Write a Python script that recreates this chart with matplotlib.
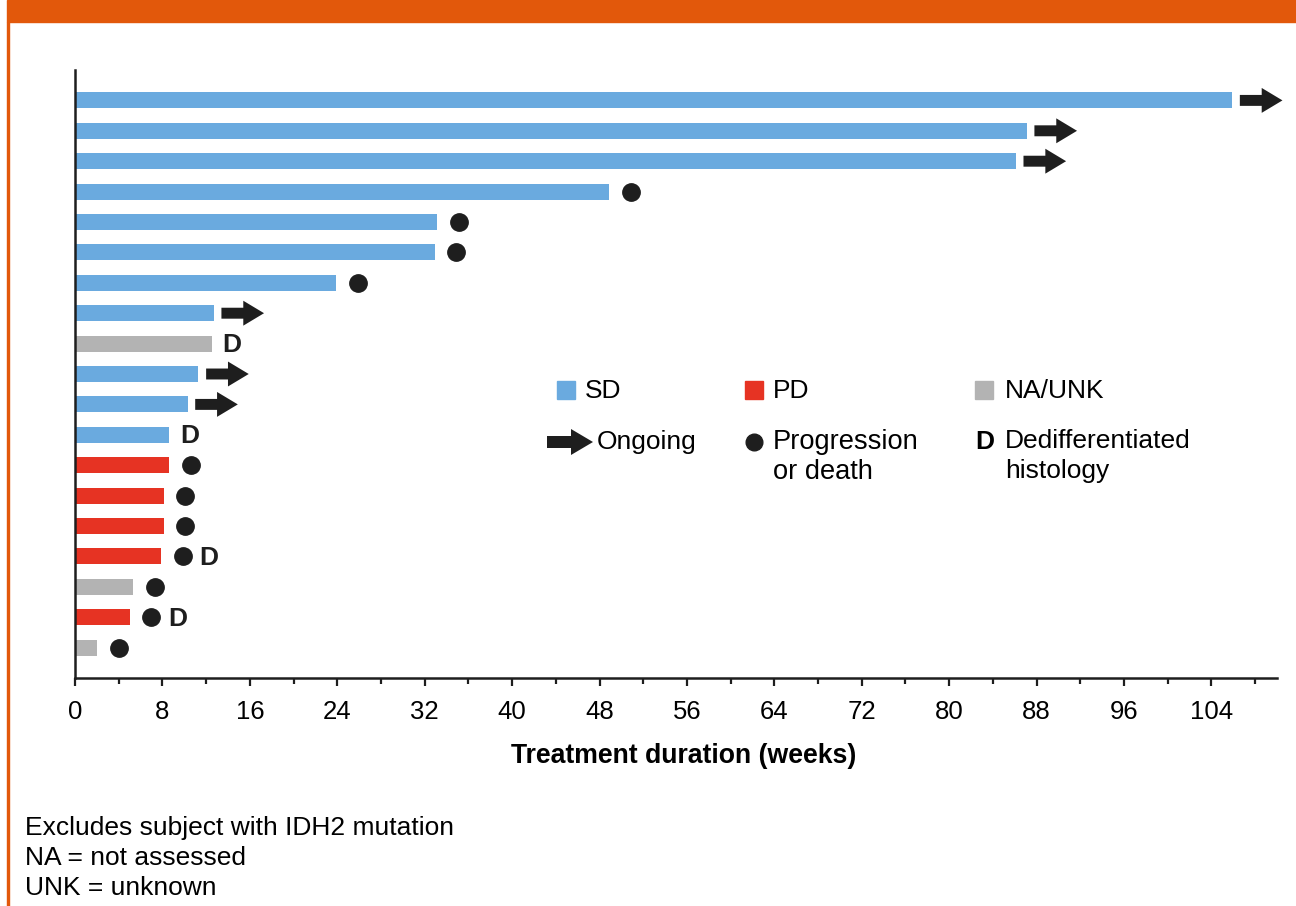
import matplotlib
matplotlib.use("Agg")
import matplotlib.pyplot as plt
from matplotlib.patches import FancyArrow, Rectangle
from matplotlib.ticker import MultipleLocator
import numpy as np

plt.rcParams['font.family'] = ['Liberation Sans', 'DejaVu Sans']

# one row per subject, top to bottom
durations = [105.9, 87.1, 86.1, 48.9, 33.1, 32.9, 23.9, 12.7, 12.5, 11.3,
             10.3, 8.6, 8.6, 8.1, 8.1, 7.9, 5.3, 5.0, 2.0]
response = ['SD', 'SD', 'SD', 'SD', 'SD', 'SD', 'SD', 'SD', 'NA', 'SD',
            'SD', 'SD', 'PD', 'PD', 'PD', 'PD', 'NA', 'PD', 'NA']
status = ['ongoing', 'ongoing', 'ongoing', 'dot', 'dot', 'dot', 'dot', 'ongoing', None, 'ongoing',
          'ongoing', None, 'dot', 'dot', 'dot', 'dot', 'dot', 'dot', 'dot']
dediff = [False, False, False, False, False, False, False, False, True, False,
          False, True, False, False, False, True, False, True, False]

colors = {'SD': '#6AAADF', 'PD': '#E63323', 'NA': '#B3B3B3'}
black = '#1E1E1E'
orange = '#E2580B'

W, H = 1296, 906
fig = plt.figure(figsize=(W / 100, H / 100), dpi=100)

def fx(px):
    return px / W

def fy(py):
    return 1 - py / H

# frame decoration
fig.patches.append(Rectangle((fx(7), fy(22)), 1 - fx(7), 22 / H, transform=fig.transFigure,
                             color=orange, zorder=0))
fig.patches.append(Rectangle((fx(7), 0), 2 / W, fy(22), transform=fig.transFigure,
                             color=orange, zorder=0))

ax = fig.add_axes([fx(75), fy(678), fx(1277) - fx(75), (678 - 70) / H])

y = np.arange(len(durations))
ax.barh(y, durations, height=0.52, color=[colors[r] for r in response], zorder=2)

for i, d in enumerate(durations):
    text_x = d + 1.0
    if status[i] == 'ongoing':
        ax.add_patch(FancyArrow(d + 0.7, i, 3.9, 0, width=0.36, head_width=0.82,
                                head_length=1.9, length_includes_head=True,
                                color=black, lw=0, zorder=3, clip_on=False))
    elif status[i] == 'dot':
        ax.plot(d + 2.0, i, 'o', color=black, markersize=12.5, zorder=3)
        text_x = d + 3.5
    if dediff[i]:
        ax.text(text_x, i + 0.05, 'D', fontsize=19, fontweight='bold', ha='left', va='center',
                color=black)

ax.set_xlim(0, 110)
ax.set_ylim(len(durations), -1)
ax.set_yticks([])
ax.xaxis.set_major_locator(MultipleLocator(8))
ax.xaxis.set_minor_locator(MultipleLocator(4))
ax.tick_params(axis='x', which='major', length=6, width=1.6, labelsize=18.5, pad=10, color=black)
ax.tick_params(axis='x', which='minor', length=4, width=1.6, color=black)
for s in ['top', 'right']:
    ax.spines[s].set_visible(False)
for s in ['left', 'bottom']:
    ax.spines[s].set_linewidth(1.8)
    ax.spines[s].set_color(black)
ax.set_xlabel('Treatment duration (weeks)', fontsize=19.2, fontweight='bold')
ax.xaxis.set_label_coords((684 - 75) / (1277 - 75), -(756 - 678) / (678 - 70))
ax.xaxis.label.set_va('center')

# legend, drawn by hand
leg_fs = 19
for (sx, tx, key, label) in [(557, 585, 'SD', 'SD'), (745, 773, 'PD', 'PD'),
                             (975, 1005, 'NA', 'NA/UNK')]:
    fig.patches.append(Rectangle((fx(sx), fy(399)), 18 / W, 18 / H, transform=fig.transFigure,
                                 color=colors[key]))
    fig.text(fx(tx), fy(391), label, fontsize=leg_fs, ha='left', va='center')

fig.patches.append(FancyArrow(fx(547), fy(442), 46 / W, 0, width=12 / H, head_width=26 / H,
                              head_length=22 / W, length_includes_head=True,
                              transform=fig.transFigure, color=black, lw=0))
fig.text(fx(597), fy(442), 'Ongoing', fontsize=leg_fs, ha='left', va='center')

fig.lines.append(plt.Line2D([fx(754)], [fy(442)], marker='o', color=black, markersize=12,
                            transform=fig.transFigure))
fig.text(fx(773), fy(442), 'Progression', fontsize=19.6, ha='left', va='center')
fig.text(fx(773), fy(472), 'or death', fontsize=19.6, ha='left', va='center')

fig.text(fx(975), fy(442), 'D', fontsize=leg_fs, fontweight='bold', ha='left', va='center')
fig.text(fx(1005), fy(441), 'Dedifferentiated', fontsize=leg_fs, ha='left', va='center')
fig.text(fx(1005), fy(471), 'histology', fontsize=leg_fs, ha='left', va='center')

# footnotes
notes = ['Excludes subject with IDH2 mutation', 'NA = not assessed', 'UNK = unknown']
for k, n in enumerate(notes):
    fig.text(fx(25), fy(828 + 30 * k), n, fontsize=19, ha='left', va='center')

fig.savefig('out.png', dpi=100)
